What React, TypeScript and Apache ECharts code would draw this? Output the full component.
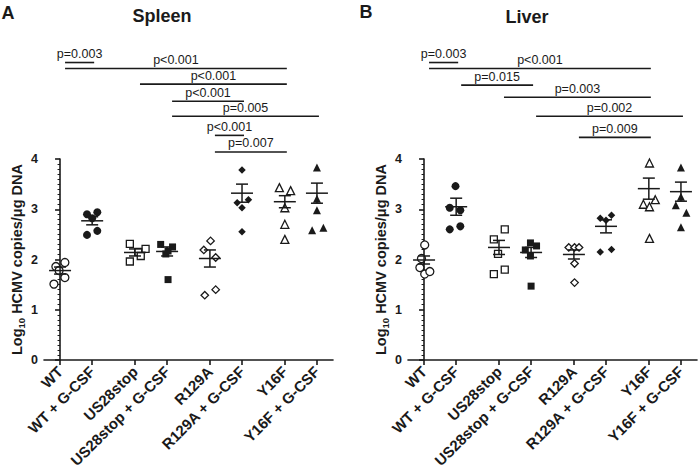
import React, { useEffect, useRef } from "react";
import * as echarts from "echarts";

// ---------- categories / axis ----------
const categories = ["WT", "WT + G-CSF", "US28stop", "US28stop + G-CSF", "R129A", "R129A + G-CSF", "Y16F", "Y16F + G-CSF"];
const symbols = ["circle", "circle", "rect", "rect", "diamond", "diamond", "triangle", "triangle"];
const filled = [false, true, false, true, false, true, false, true];
const yTicks = [0, 1, 2, 3, 4];

// ---------- Spleen data (log10 copies/µg DNA) ----------
const spleenWT = [1.86, 1.94, 1.78, 1.64, 1.51];
const spleenWTG = [2.90, 2.94, 2.82, 2.49, 2.57];
const spleenUS = [2.31, 2.21, 2.15, 2.07, 1.96];
const spleenUSG = [2.30, 2.25, 2.17, 2.11, 1.60];
const spleenR = [2.37, 2.19, 2.04, 1.29, 1.40];
const spleenRG = [3.78, 3.13, 3.19, 3.03, 2.55];
const spleenY = [3.43, 3.37, 3.03, 2.70, 2.40];
const spleenYG = [3.83, 3.21, 2.98, 2.58, 2.63];
const spleenMean = [1.78, 2.77, 2.14, 2.16, 2.02, 3.32, 3.15, 3.32];
const spleenSem = [0.07, 0.08, 0.07, 0.09, 0.17, 0.18, 0.12, 0.20];
// horizontal jitter of each dot (fraction of one category step)
const spleenJitter = [
  [-0.13, 0.15, -0.03, 0.15, -0.19],
  [-0.16, 0.16, 0, -0.16, 0.16],
  [-0.16, 0.33, 0.1, 0.18, -0.16],
  [-0.2, 0.17, 0.03, -0.04, 0.03],
  [0.02, -0.19, 0.18, -0.16, 0.18],
  [0, -0.15, 0.2, 0, 0],
  [-0.17, 0.18, 0, 0, 0],
  [0, 0, 0, -0.15, 0.2],
];
const spleenBrFrom = [0, 0, 2, 3, 3, 4, 4];
const spleenBrTo = [1, 6, 6, 5, 7, 5, 6];
const spleenBrY = [5.92, 5.80, 5.49, 5.15, 4.85, 4.47, 4.14];
const spleenBrLabel = ["p=0.003", "p<0.001", "p<0.001", "p<0.001", "p=0.005", "p<0.001", "p=0.007"];

// ---------- Liver data ----------
const liverWT = [2.29, 2.02, 1.84, 1.71, 1.76];
const liverWTG = [3.46, 3.03, 2.98, 2.60, 2.66];
const liverUS = [2.60, 2.40, 2.11, 1.71, 1.80];
const liverUSG = [2.33, 2.27, 2.19, 2.07, 1.47];
const liverR = [2.24, 2.24, 2.24, 1.92, 1.54];
const liverRG = [2.82, 2.78, 2.88, 2.15, 2.20];
const liverY = [3.92, 3.10, 3.19, 3.05, 2.42];
const liverYG = [3.83, 3.25, 3.08, 2.93, 2.64];
const liverMean = [1.99, 3.05, 2.24, 2.14, 2.10, 2.66, 3.41, 3.35];
const liverSem = [0.08, 0.17, 0.14, 0.10, 0.09, 0.13, 0.21, 0.19];
const liverJitter = [
  [0.02, -0.08, -0.13, 0.02, 0.18],
  [-0.02, -0.2, 0.13, -0.2, 0.13],
  [0.18, -0.16, -0.03, -0.16, 0.18],
  [-0.02, 0.17, -0.18, -0.02, 0],
  [-0.16, 0.02, 0.16, 0.02, 0.02],
  [-0.18, 0, 0.17, -0.18, 0.17],
  [0.02, -0.17, 0.2, 0.02, 0.02],
  [0, 0, -0.16, 0.17, 0],
];
const liverBrFrom = [0, 0, 1, 2, 3, 4];
const liverBrTo = [1, 6, 3, 6, 7, 6];
const liverBrY = [5.92, 5.80, 5.47, 5.23, 4.85, 4.43];
const liverBrLabel = ["p=0.003", "p<0.001", "p=0.015", "p=0.003", "p=0.002", "p=0.009"];

const spleenValues = [spleenWT, spleenWTG, spleenUS, spleenUSG, spleenR, spleenRG, spleenY, spleenYG];
const liverValues = [liverWT, liverWTG, liverUS, liverUSG, liverR, liverRG, liverY, liverYG];

// category positions: pairs with an extra gap between pairs
const catPos = categories.map((_, i) => i + Math.floor(i / 2) / 3);

const FONT = "Liberation Sans, Arial, Helvetica, sans-serif";
const BLACK = "#1a1a1a";

function panelSeries(idx: number, values: number[][], jitter: number[][], mean: number[], sem: number[],
  brFrom: number[], brTo: number[], brY: number[], brLabel: string[]) {
  const series: any[] = [];
  values.forEach((vals, c) => {
    series.push({
      type: "scatter",
      xAxisIndex: idx,
      yAxisIndex: idx,
      symbol: symbols[c],
      symbolSize: symbols[c] === "rect" ? 7 : symbols[c] === "diamond" ? 7.5 : 8,
      data: vals.map((v, k) => [catPos[c] + jitter[c][k], v]),
      itemStyle: {
        color: filled[c] ? BLACK : "#fff",
        borderColor: BLACK,
        borderWidth: filled[c] ? 0 : 1.3,
        opacity: 1,
      },
      z: 3,
    });
  });
  series.push({
    type: "custom",
    xAxisIndex: idx,
    yAxisIndex: idx,
    z: 5,
    clip: false,
    data: mean.map((m, c) => [catPos[c], m, sem[c]]),
    encode: { x: 0, y: 1 },
    renderItem: (params: any, api: any) => {
      const x = api.value(0), m = api.value(1), s = api.value(2);
      const c = api.coord([x, m]);
      const t = api.coord([x, m + s]);
      const b = api.coord([x, m - s]);
      const st = { stroke: BLACK, lineWidth: 1.5 };
      return {
        type: "group",
        children: [
          { type: "line", shape: { x1: c[0] - 11, y1: c[1], x2: c[0] + 11, y2: c[1] }, style: st },
          { type: "line", shape: { x1: c[0], y1: t[1], x2: c[0], y2: b[1] }, style: st },
          { type: "line", shape: { x1: c[0] - 6, y1: t[1], x2: c[0] + 6, y2: t[1] }, style: st },
          { type: "line", shape: { x1: c[0] - 6, y1: b[1], x2: c[0] + 6, y2: b[1] }, style: st },
        ],
      };
    },
  });
  series.push({
    type: "custom",
    xAxisIndex: idx,
    yAxisIndex: idx,
    z: 5,
    clip: false,
    data: brY.map((y, i) => [catPos[brFrom[i]], catPos[brTo[i]], y]),
    encode: { x: [0, 1], y: 2 },
    renderItem: (params: any, api: any) => {
      const a = api.coord([api.value(0), api.value(2)]);
      const b = api.coord([api.value(1), api.value(2)]);
      const x1 = a[0] + 5, x2 = b[0] + 2;
      return {
        type: "group",
        children: [
          { type: "line", shape: { x1, y1: a[1], x2, y2: a[1] }, style: { stroke: BLACK, lineWidth: 1.6 } },
          {
            type: "text",
            style: {
              text: brLabel[params.dataIndex],
              x: (x1 + x2) / 2,
              y: a[1] - 2,
              align: "center",
              verticalAlign: "bottom",
              fontSize: 12.5,
              fontFamily: FONT,
              fill: BLACK,
            },
          },
        ],
      };
    },
  });
  return series;
}

function xAxis(idx: number) {
  return {
    gridIndex: idx,
    type: "value",
    min: -0.5,
    max: 8.5,
    axisLine: { show: true, onZero: false, lineStyle: { color: BLACK, width: 1.6 } },
    axisTick: { show: true, customValues: catPos, length: 5, lineStyle: { color: BLACK, width: 1.6 } },
    axisLabel: {
      customValues: catPos,
      rotate: 45,
      margin: 9,
      fontSize: 15,
      fontWeight: "bold",
      fontFamily: FONT,
      color: BLACK,
      formatter: (v: number) => {
        const i = catPos.findIndex((p) => Math.abs(p - v) < 0.01);
        return i >= 0 ? categories[i] : "";
      },
    },
    splitLine: { show: false },
  };
}

function yAxis(idx: number) {
  return {
    gridIndex: idx,
    type: "value",
    min: yTicks[0],
    max: yTicks[yTicks.length - 1],
    interval: 1,
    axisLine: { show: true, lineStyle: { color: BLACK, width: 1.6 } },
    axisTick: { show: true, length: 5, lineStyle: { color: BLACK, width: 1.6 } },
    minorTick: { show: true, splitNumber: 10, length: 2.5, lineStyle: { color: BLACK, width: 1 } },
    axisLabel: { fontSize: 12.5, fontWeight: "bold", fontFamily: FONT, color: BLACK, margin: 6 },
    splitLine: { show: false },
    name: "{a|Log}{s|10}{a| HCMV copies/μg DNA}",
    nameLocation: "middle",
    nameGap: 18,
    nameTextStyle: {
      rich: {
        a: { fontSize: 14.5, fontWeight: "bold", fontFamily: FONT, color: BLACK, lineHeight: 19, verticalAlign: "middle" },
        s: { fontSize: 9.5, fontWeight: "bold", fontFamily: FONT, color: BLACK, lineHeight: 10, verticalAlign: "bottom" },
      },
    },
  };
}

export default function App() {
  const ref = useRef<HTMLDivElement>(null);
  useEffect(() => {
    if (!ref.current) return;
    const chart = echarts.init(ref.current, undefined, { renderer: "svg" });
    const titleStyle = { fontSize: 18, fontWeight: "bold", fontFamily: FONT, fill: BLACK, align: "center", verticalAlign: "middle" };
    chart.setOption({
      animation: false,
      backgroundColor: "#fff",
      grid: [
        { left: 44, top: 159, width: 289, height: 201 },
        { left: 408, top: 159, width: 289, height: 201 },
      ],
      xAxis: [xAxis(0), xAxis(1)],
      yAxis: [yAxis(0), yAxis(1)],
      series: [
        ...panelSeries(0, spleenValues, spleenJitter, spleenMean, spleenSem, spleenBrFrom, spleenBrTo, spleenBrY, spleenBrLabel),
        ...panelSeries(1, liverValues, liverJitter, liverMean, liverSem, liverBrFrom, liverBrTo, liverBrY, liverBrLabel),
      ],
      graphic: [
        { type: "text", x: 8, y: 12.5, style: { ...titleStyle, text: "A" } },
        { type: "text", x: 366, y: 12, style: { ...titleStyle, text: "B" } },
        { type: "text", x: 162, y: 15.5, style: { ...titleStyle, text: "Spleen" } },
        { type: "text", x: 527, y: 16.5, style: { ...titleStyle, text: "Liver" } },
      ],
    });
    return () => chart.dispose();
  }, []);
  return <div ref={ref} style={{ position: "absolute", left: 0, top: 0, width: 700, height: 472 }} />;
}
